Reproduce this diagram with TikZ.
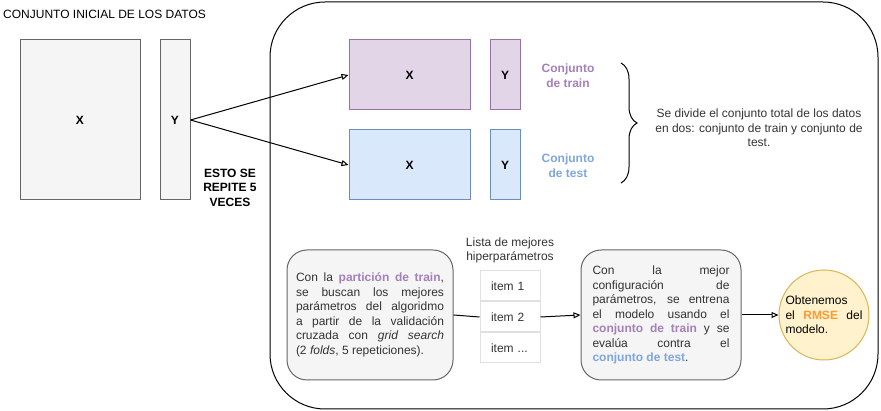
\documentclass[tikz,border=0pt]{standalone}
\usepackage{fontspec}
\setmainfont{Liberation Sans}
\usetikzlibrary{positioning,arrows.meta,decorations.pathreplacing}

\definecolor{grisfondo}{HTML}{F5F5F5}
\definecolor{grisborde}{HTML}{666666}
\definecolor{grislista}{HTML}{E0E0E0}
\definecolor{textogris}{HTML}{333333}
\definecolor{trainfondo}{HTML}{E1D5E7}
\definecolor{trainborde}{HTML}{9673A6}
\definecolor{testfondo}{HTML}{DAE8FC}
\definecolor{testborde}{HTML}{6C8EBF}
\definecolor{traintexto}{HTML}{A680B8}
\definecolor{testtexto}{HTML}{7EA6E0}
\definecolor{rmsetexto}{HTML}{FF9933}
\definecolor{rmsefondo}{HTML}{FFF2CC}
\definecolor{rmseborde}{HTML}{D6B656}

\newcommand{\tamletra}{\fontsize{12}{14.5}\selectfont\tolerance=10000\hyphenpenalty=10000}

\tikzset{
    letra/.style={font=\tamletra, inner sep=0pt},
    cajadatos/.style={draw=grisborde, fill=grisfondo, line width=1pt, font=\tamletra\bfseries, inner sep=0pt},
    cajatrain/.style={draw=trainborde, fill=trainfondo, line width=1pt, font=\tamletra\bfseries, inner sep=0pt},
    cajatest/.style={draw=testborde, fill=testfondo, line width=1pt, font=\tamletra\bfseries, inner sep=0pt},
    cajatexto/.style={draw=grisborde, fill=grisfondo, line width=1pt, rounded corners=20pt,
        font=\tamletra, text=textogris, align=justify, inner sep=0pt, minimum height=130pt},
    itemlista/.style={draw=grislista, fill=white, line width=1pt, font=\tamletra, text=textogris,
        minimum width=60pt, minimum height=30pt, text width=38pt, align=left, inner sep=0pt},
    circulo/.style={circle, draw=rmseborde, fill=rmsefondo, line width=1pt, font=\tamletra,
        text width=77pt, align=justify, minimum size=90pt, inner sep=0pt},
    flecha/.style={line width=1pt, -{Triangle[open, length=7pt, width=6pt]}},
    linea/.style={line width=1pt}
}

\begin{document}
\begin{tikzpicture}[x=1pt, y=-1pt]
        \useasboundingbox (0,0) rectangle (881,411);

        % ~~~~ Conjunto inicial ~~~~%
        \node[letra, anchor=west] (titulo) at (3,14) {CONJUNTO INICIAL DE LOS DATOS};
        \node[cajadatos, minimum width=120pt, minimum height=160pt] (datosX) at (80,120) {X};
        \node[cajadatos, minimum width=30pt, minimum height=160pt] (datosY) at (175,120) {Y};
        \node[letra, font=\tamletra\bfseries, align=center] (repite) at (230,187.5) {ESTO SE\\REPITE 5\\VECES};

        % ~~~~ Contenedor ~~~~%
        \draw[linea, rounded corners=55pt] (270,2) rectangle (878,409);

        % ~~~~ Particion train / test ~~~~%
        \node[cajatrain, minimum width=121pt, minimum height=70pt] (trainX) at (409.5,75) {X};
        \node[cajatrain, minimum width=30pt, minimum height=70pt] (trainY) at (505,75) {Y};
        \node[cajatest, minimum width=121pt, minimum height=70pt] (testX) at (409.5,165) {X};
        \node[cajatest, minimum width=30pt, minimum height=70pt] (testY) at (505,165) {Y};
        \node[letra, font=\tamletra\bfseries, text=traintexto, align=center] (etqtrain) at (568,75.5) {Conjunto\\de train};
        \node[letra, font=\tamletra\bfseries, text=testtexto, align=center] (etqtest) at (568,165.5) {Conjunto\\de test};

        \draw[flecha] (datosY.east) -- (trainX.west);
        \draw[flecha] (datosY.east) -- (testX.west);

        % ~~~~ Llave y explicacion ~~~~%
        \draw[linea, decorate, decoration={brace, amplitude=16pt}] (621,63) -- (621,183);
        \node[letra, text=textogris, align=center] (divide) at (759,128)
            {Se divide el conjunto total de los datos\\en dos: conjunto de train y conjunto de\\test.};

        % ~~~~ Busqueda de hiperparametros ~~~~%
        \node[cajatexto, minimum width=166pt, text width=148pt] (busqueda) at (370,315)
            {Con la \textcolor{traintexto}{\textbf{partición de train}},\linebreak
             se buscan los mejores\linebreak
             parámetros del algoridmo\linebreak
             a partir de la validación\linebreak
             cruzada con \textit{grid search}\linebreak
             (2 \textit{folds}, 5 repeticiones).};

        \node[letra, text=textogris, align=center] (etqlista) at (510,250.5) {Lista de mejores\\hiperparámetros};
        \node[itemlista] (item1) at (510,286) {item 1};
        \node[itemlista, below=0pt of item1] (item2) {item 2};
        \node[itemlista, below=0pt of item2] (item3) {item ...};

        % ~~~~ Modelo final ~~~~%
        \node[cajatexto, minimum width=160pt, text width=137pt] (modelo) at (661,315)
            {Con la mejor\linebreak
             configuración de\linebreak
             parámetros, se entrena\linebreak
             el modelo usando el\linebreak
             \textcolor{traintexto}{\textbf{conjunto de train}} y se\linebreak
             evalúa contra el\linebreak
             \textcolor{testtexto}{\textbf{conjunto de test}}.};

        \node[circulo] (rmse) at (824,315)
            {Obtenemos\linebreak
             el \textcolor{rmsetexto}{\textbf{RMSE}} del\linebreak
             modelo.};

        \draw[linea] (busqueda.east) -- (item2.west);
        \draw[flecha] (item2.east) -- (modelo.west);
        \draw[flecha] (modelo.east) -- (rmse.west);
    \end{tikzpicture}
\end{document}
